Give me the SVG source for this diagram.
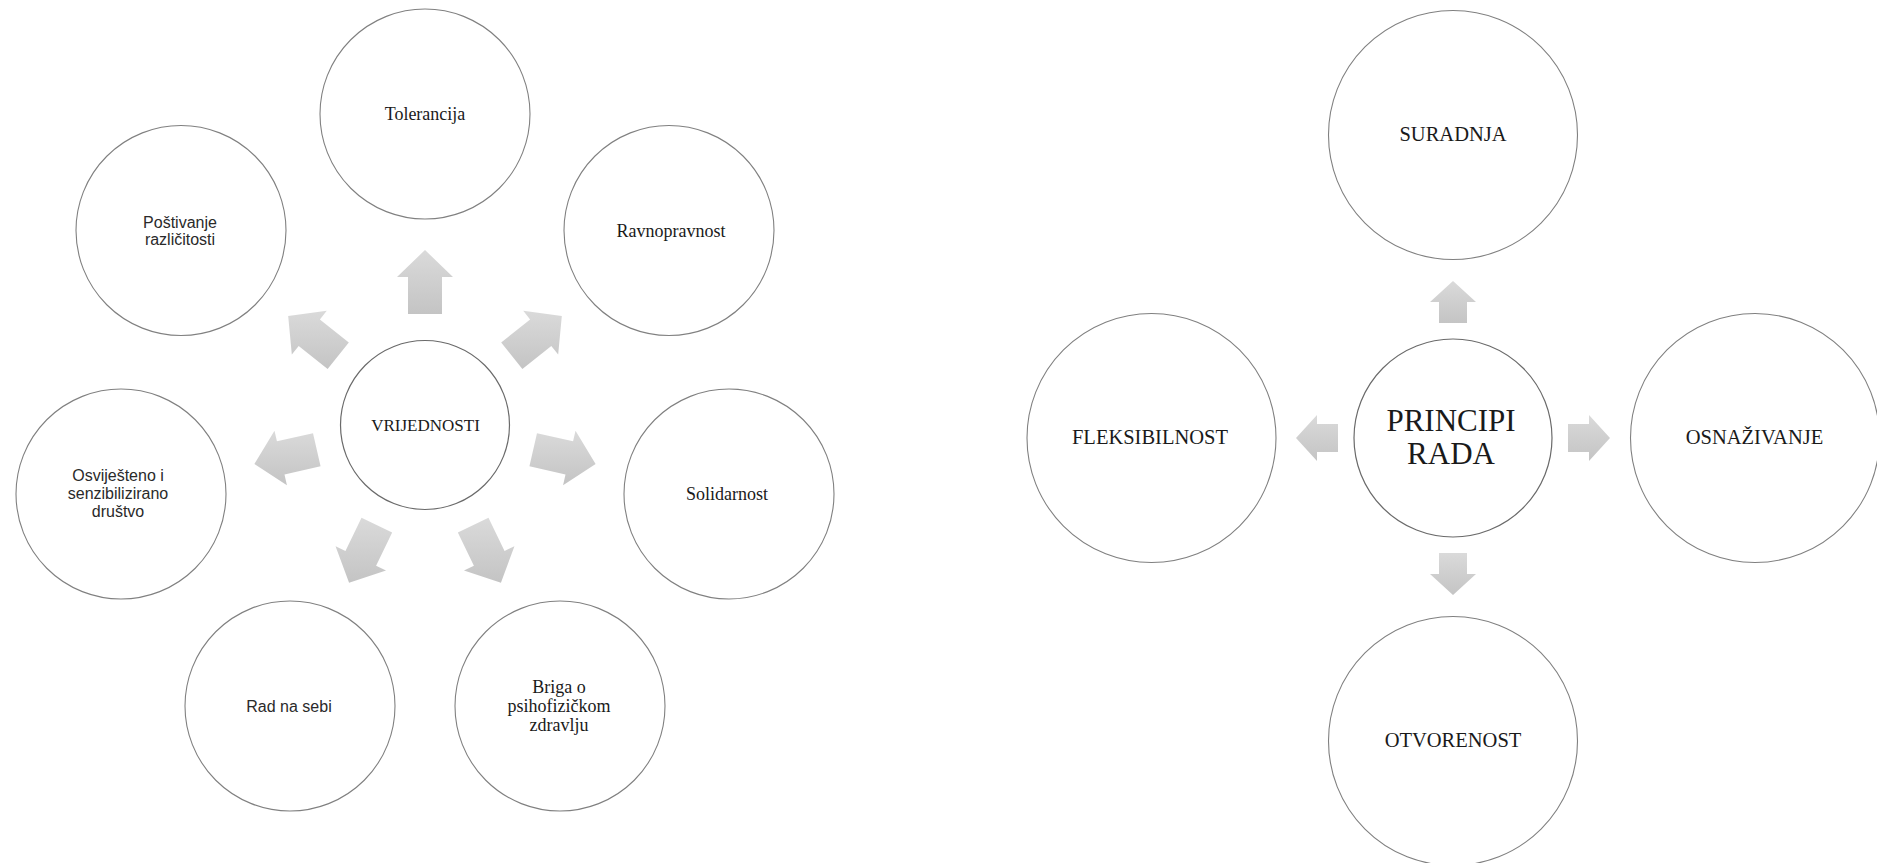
<svg xmlns="http://www.w3.org/2000/svg" width="1877" height="863" viewBox="0 0 1877 863">
<defs>
<linearGradient id="ag" x1="0" y1="0" x2="0" y2="1">
<stop offset="0" stop-color="#dadada"/>
<stop offset="1" stop-color="#c4c4c4"/>
</linearGradient>
<style>
.c{fill:#fff;stroke:#808080;stroke-width:1.1}
.cc{fill:#fff;stroke:#6a6a6a;stroke-width:1.2}
.a{fill:url(#ag)}
.s{font-family:"Liberation Serif","Times New Roman",serif;font-size:18px;fill:#1a1a1a;text-anchor:middle}
.n{font-family:"Liberation Sans",Arial,sans-serif;font-size:16px;fill:#2a2a2a;text-anchor:middle}
.r{font-family:"Liberation Serif","Times New Roman",serif;font-size:20.5px;fill:#1a1a1a;text-anchor:middle}
</style>
</defs>
<rect width="1877" height="863" fill="#fff"/>
<g id="connectors">
<polygon class="a" points="408,314 408,277 397,277 425,250 453,277 442,277 442,314"/>
<polygon class="a" points="501.18,342.5 530.11,319.43 523.25,310.83 561.82,315.89 558.17,354.61 551.31,346.01 522.38,369.08"/>
<polygon class="a" points="536.99,433.13 573.07,441.36 575.52,430.63 595.61,463.94 563.06,485.23 565.51,474.5 529.43,466.27"/>
<polygon class="a" points="488.48,517.63 504.54,550.97 514.45,546.2 500.93,582.68 463.99,570.5 473.9,565.73 457.84,532.39"/>
<polygon class="a" points="361.52,517.63 345.46,550.97 335.55,546.2 349.07,582.68 386.01,570.5 376.1,565.73 392.16,532.39"/>
<polygon class="a" points="313.01,433.13 276.93,441.36 274.48,430.63 254.39,463.94 286.94,485.23 284.49,474.5 320.57,466.27"/>
<polygon class="a" points="348.82,342.5 319.89,319.43 326.75,310.83 288.18,315.89 291.83,354.61 298.69,346.01 327.62,369.08"/>
<polygon class="a" points="1439,323 1439,302 1430,302 1453,281 1476,302 1467,302 1467,323"/>
<polygon class="a" points="1439,553 1439,574 1430,574 1453,595 1476,574 1467,574 1467,553"/>
<polygon class="a" points="1568,424 1589,424 1589,415 1610,438 1589,461 1589,452 1568,452"/>
<polygon class="a" points="1338,424 1317,424 1317,415 1296,438 1317,461 1317,452 1338,452"/>
</g>
<g id="vrijednosti">
<circle class="cc" cx="425" cy="425" r="84.5"/>
<text class="s" x="425.5" y="431" style="font-size:17px">VRIJEDNOSTI</text>
</g>
<g id="tolerancija">
<circle class="c" cx="425" cy="114" r="105"/>
<text class="s" x="425" y="120">Tolerancija</text>
</g>
<g id="ravnopravnost">
<circle class="c" cx="669" cy="230.5" r="105"/>
<text class="s" x="671" y="236.5">Ravnopravnost</text>
</g>
<g id="solidarnost">
<circle class="c" cx="729" cy="494" r="105"/>
<text class="s" x="727" y="500">Solidarnost</text>
</g>
<g id="briga">
<circle class="c" cx="560" cy="706" r="105"/>
<text class="s" x="559" y="693">Briga o</text>
<text class="s" x="559" y="712">psihofizičkom</text>
<text class="s" x="559" y="731">zdravlju</text>
</g>
<g id="rad-na-sebi">
<circle class="c" cx="290" cy="706" r="105"/>
<text class="n" x="289" y="712">Rad na sebi</text>
</g>
<g id="osvijesteno">
<circle class="c" cx="121" cy="494" r="105"/>
<text class="n" x="118" y="481">Osviješteno i</text>
<text class="n" x="118" y="499">senzibilizirano</text>
<text class="n" x="118" y="517">društvo</text>
</g>
<g id="postivanje">
<circle class="c" cx="181" cy="230.5" r="105"/>
<text class="n" x="180" y="227.5">Poštivanje</text>
<text class="n" x="180" y="245">različitosti</text>
</g>
<g id="principi-rada">
<circle class="cc" cx="1453" cy="438" r="99"/>
<text class="r" x="1451" y="431" style="font-size:31px">PRINCIPI</text>
<text class="r" x="1451" y="464" style="font-size:31px">RADA</text>
</g>
<g id="suradnja">
<circle class="c" cx="1453" cy="135" r="124.5"/>
<text class="r" x="1453" y="141">SURADNJA</text>
</g>
<g id="fleksibilnost">
<circle class="c" cx="1151.5" cy="438" r="124.5"/>
<text class="r" x="1150" y="444">FLEKSIBILNOST</text>
</g>
<g id="osnazivanje">
<circle class="c" cx="1755" cy="438" r="124.5"/>
<text class="r" x="1754.5" y="444">OSNAŽIVANJE</text>
</g>
<g id="otvorenost">
<circle class="c" cx="1453" cy="741" r="124.5"/>
<text class="r" x="1453" y="747">OTVORENOST</text>
</g>
</svg>
